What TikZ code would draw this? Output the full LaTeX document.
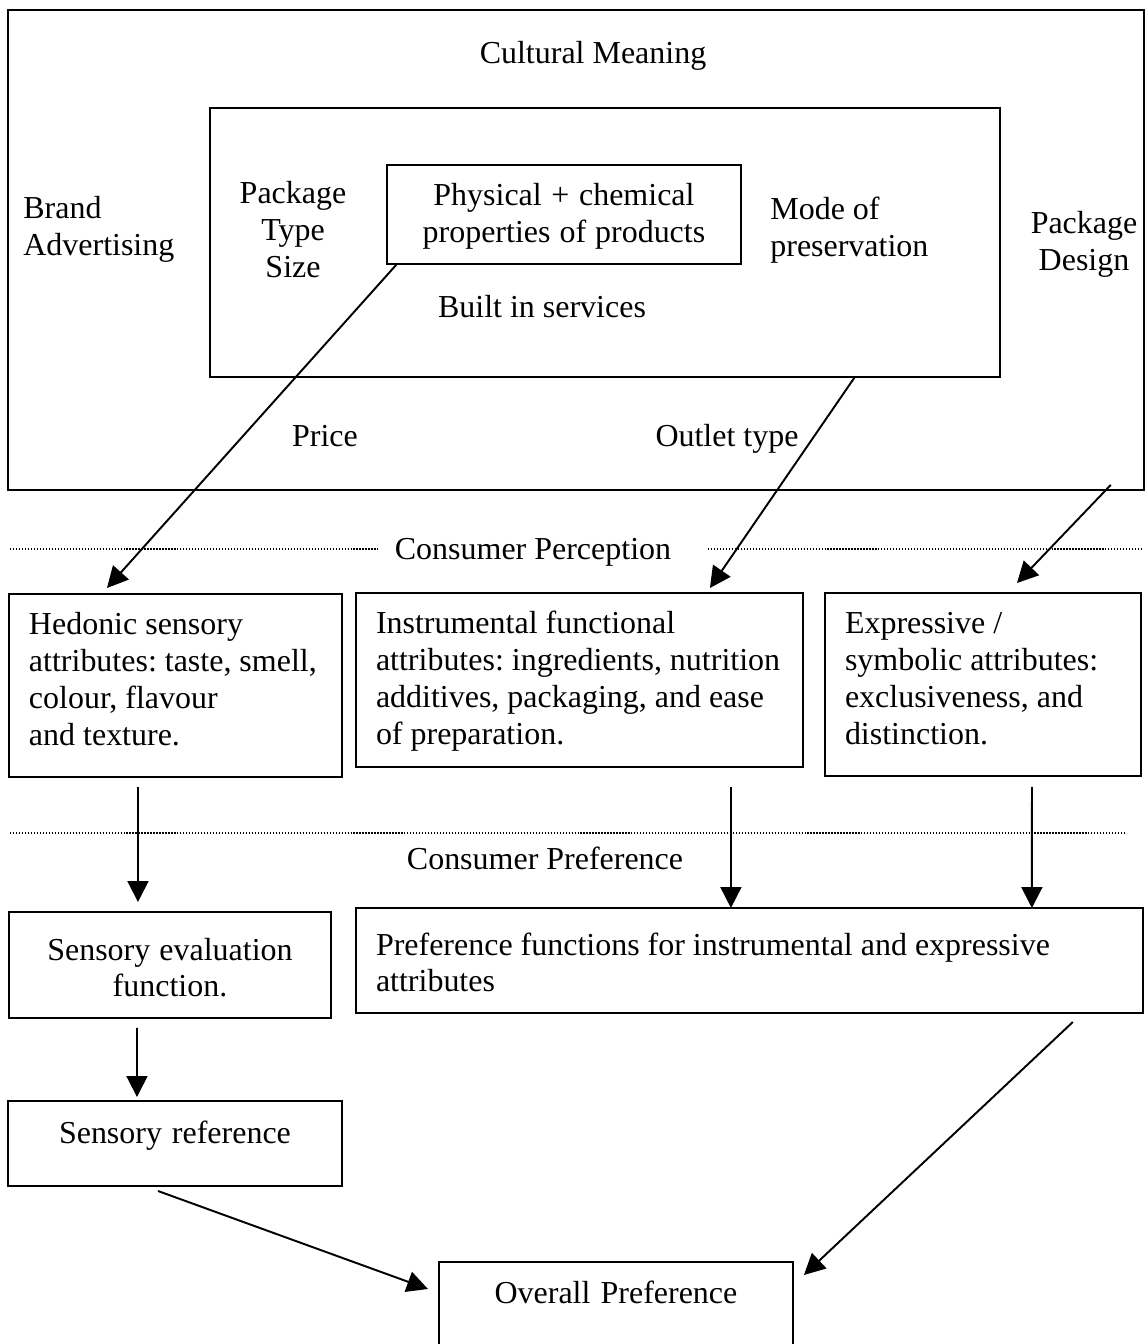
\documentclass[tikz,border=0pt]{standalone}
\usepackage{fontspec}
\setmainfont{Liberation Serif}
\usetikzlibrary{arrows.meta}

\begin{document}
\begin{tikzpicture}[x=0.02cm,y=-0.02cm,font=\fontsize{18.2}{21}\selectfont\frenchspacing,
  execute at begin node={\spaceskip=0pt\xspaceskip=0pt\hyphenpenalty=10000},
  bx/.style={draw,line width=1.1pt,rectangle,anchor=north west,inner ysep=0pt,inner xsep=0.4cm,outer sep=0pt},
  frm/.style={draw,line width=1.1pt,rectangle,anchor=north west,inner sep=0pt,outer sep=0pt},
  lbl/.style={inner sep=0pt},
  arr/.style={-{Triangle[length=0.42cm,width=0.42cm]},line width=1.1pt},
  sep/.style={line width=0.7pt,dash pattern=on 0.7pt off 1pt}]
\useasboundingbox (0,0) rectangle (1145,1344);

% cultural meaning frame
\node[frm,minimum width=22.72cm,minimum height=9.6cm] (cult) at (8,10) {};
\node[frm,minimum width=15.8cm,minimum height=5.38cm] (inner) at (210,108) {};
\node[bx,align=center,text width=6.28cm,text height=0.82cm,text depth=1.16cm] (phys) at (387,165) {Physical + chemical\\properties of products};

\node[lbl,anchor=base] (cm) at (593,64) {Cultural Meaning};
\node[lbl,anchor=base west,align=left,text width=4cm] (brand) at (23,219) {Brand\\Advertising};
\node[lbl,anchor=base,align=center,text width=3cm] (pack) at (293,204) {Package\\Type\\Size};
\node[lbl,anchor=base west,align=left,text width=4cm] (mode) at (770,220) {Mode of\\preservation};
\node[lbl,anchor=base,align=center,text width=3cm] (design) at (1084,234) {Package\\Design};
\node[lbl,anchor=base] (serv) at (542,318) {Built in services};
\node[lbl,anchor=base] (price) at (325,446) {Price};
\node[lbl,anchor=base] (outlet) at (727,446) {Outlet type};

% perception
\draw[sep] (10,549) -- (378,549);
\draw[sep] (708,549) -- (1143,549);
\node[lbl,anchor=base] (percep) at (533,559) {Consumer Perception};

\node[bx,align=left,text width=5.86cm,text height=0.82cm,text depth=2.84cm] (hed) at (9,594) {Hedonic sensory\\attributes: taste, smell,\\colour, flavour\\and texture.};
\node[bx,align=left,text width=8.14cm,text height=0.82cm,text depth=2.66cm] (ins) at (356,593) {Instrumental functional\\attributes: ingredients, nutrition\\additives, packaging, and ease\\of preparation.};
\node[bx,align=left,text width=5.52cm,text height=0.82cm,text depth=2.84cm] (exp) at (825,593) {Expressive /\\symbolic attributes:\\exclusiveness, and\\distinction.};

% preference
\draw[sep] (10,833) -- (1127,833);
\node[lbl,anchor=base] (prefl) at (545,869) {Consumer Preference};

\node[bx,align=center,text width=5.64cm,text height=0.96cm,text depth=1.16cm] (sev) at (9,912) {Sensory evaluation\\function.};
\node[bx,align=left,text width=14.94cm,text height=0.94cm,text depth=1.16cm] (pref) at (356,908) {Preference functions for instrumental and expressive\\attributes};
\node[bx,align=center,text width=5.88cm,text height=0.84cm,text depth=0.86cm] (sref) at (8,1101) {Sensory reference};
\node[bx,align=center,text width=6.28cm,text height=0.82cm,text depth=1.18cm] (ovr) at (439,1262) {Overall Preference};

% arrows
\draw[arr] ([xshift=0.2cm]phys.south west) -- ([xshift=1.96cm,yshift=0.12cm]hed.north west);
\draw[arr] ([xshift=-2.9cm]inner.south east) -- ([xshift=7.08cm,yshift=0.1cm]ins.north west);
\draw[arr] ([xshift=-0.66cm,yshift=0.1cm]cult.south east) -- ([xshift=3.84cm,yshift=0.2cm]exp.north west);
\draw[arr] ([xshift=2.58cm,yshift=-0.2cm]hed.south west) -- ([xshift=2.58cm,yshift=0.2cm]sev.north west);
\draw[arr] ([xshift=7.5cm,yshift=-0.4cm]ins.south west) -- ([xshift=7.5cm]pref.north west);
\draw[arr] ([xshift=4.14cm,yshift=-0.22cm]exp.south west) -- ([xshift=13.52cm]pref.north west);
\draw[arr] ([xshift=2.56cm,yshift=-0.2cm]sev.south west) -- ([xshift=2.58cm,yshift=0.08cm]sref.north west);
\draw[arr] ([xshift=3cm,yshift=-0.1cm]sref.south west) -- ([xshift=-0.22cm,yshift=-0.54cm]ovr.north west);
\draw[arr] ([xshift=-1.4cm,yshift=-0.18cm]pref.south east) -- ([xshift=0.22cm,yshift=-0.26cm]ovr.north east);
\end{tikzpicture}
\end{document}
